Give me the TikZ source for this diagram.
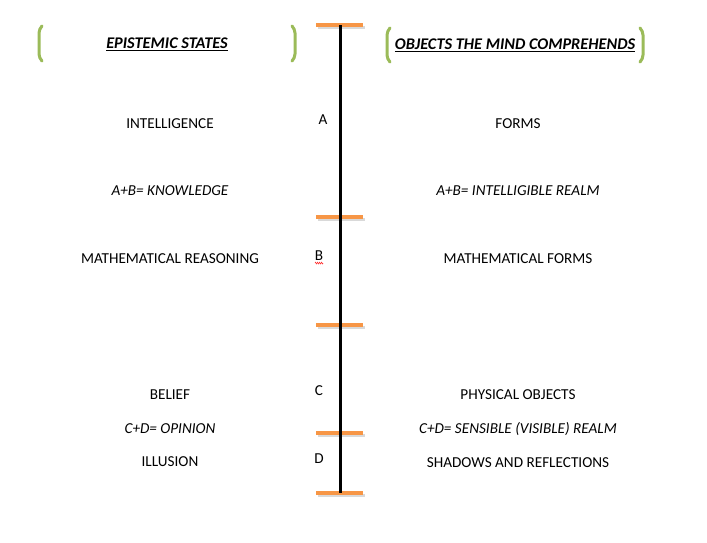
\documentclass[tikz,border=0pt]{standalone}
\usepackage{fontspec}
\setmainfont{Carlito}
\definecolor{RungOrange}{RGB}{247,150,70}
\definecolor{BracketGreen}{RGB}{155,187,89}
\usetikzlibrary{positioning, decorations.pathmorphing}

\begin{document}
\begin{tikzpicture}[x=1pt, y=-1pt,
            txt/.style={font=\fontsize{15.2}{18}\selectfont, inner sep=0pt},
            sumtxt/.style={txt, font=\fontsize{15.2}{18}\selectfont\itshape},
            head/.style={font=\fontsize{16.3}{19}\selectfont\bfseries\itshape, inner sep=0pt},
            rung/.style={line width=4pt, RungOrange},
            shade/.style={line width=3pt, black!15},
            bracket/.style={line width=3pt, BracketGreen, rounded corners=4pt, line cap=round}
        ]
            \useasboundingbox (0,0) rectangle (707,542);

            % Line and rungs
            \coordinate (top) at (340,25);
            \coordinate (ab) at (340,217);
            \coordinate (bc) at (340,325);
            \coordinate (cd) at (340,433);
            \coordinate (bot) at (340,493);
            \foreach \c in {top, ab, bc, cd, bot} {
                \draw[shade] ([xshift=-22pt, yshift=-2pt]\c) -- ([xshift=25pt, yshift=-2pt]\c);
                \draw[rung] ([xshift=-24pt]\c) -- ([xshift=23pt]\c);
            }
            \draw[line width=3pt] (top) -- (bot);

            % Headings
            \node[head] (epi) at (167,44) {\underline{EPISTEMIC STATES}};
            \node[head] (obj) at (515,45) {\underline{OBJECTS THE MIND COMPREHENDS}};
            \draw[bracket] (42,26) -- (39,29) -- (39,58) -- (42,61);
            \draw[bracket] (292,26) -- (295,29) -- (295,58) -- (292,61);
            \draw[bracket] (390,28) -- (387,31) -- (387,59) -- (390,62);
            \draw[bracket] (640,28) -- (643,31) -- (643,59) -- (640,62);

            % Segment letters
            \node[txt] (a) at (323,120) {A};
            \node[txt] (b) at (319,256) {B};
            \node[txt] (c) at (319,391) {C};
            \node[txt] (d) at (319,459) {D};
            \draw[red!80, line width=0.6pt, decorate,
                  decoration={zigzag, segment length=2pt, amplitude=0.8pt}]
                ([yshift=-2pt, xshift=-4pt]b.south) -- ([yshift=-2pt, xshift=4pt]b.south);

            % Left column
            \node[txt] (intel) at (170,124) {INTELLIGENCE};
            \node[sumtxt] (know) at (170,191) {A+B= KNOWLEDGE};
            \node[txt] (math) at (170,259) {MATHEMATICAL REASONING};
            \node[txt] (belief) at (170,395) {BELIEF};
            \node[sumtxt] (opin) at (170,429) {C+D= OPINION};
            \node[txt] (illus) at (170,462) {ILLUSION};

            % Right column
            \node[txt] (forms) at (518,124) {FORMS};
            \node[sumtxt] (intrealm) at (518,191) {A+B= INTELLIGIBLE REALM};
            \node[txt] (mforms) at (518,259) {MATHEMATICAL FORMS};
            \node[txt] (phys) at (518,395) {PHYSICAL OBJECTS};
            \node[sumtxt] (sensrealm) at (518,429) {C+D= SENSIBLE (VISIBLE) REALM};
            \node[txt] (shad) at (518,463) {SHADOWS AND REFLECTIONS};
        \end{tikzpicture}
\end{document}
